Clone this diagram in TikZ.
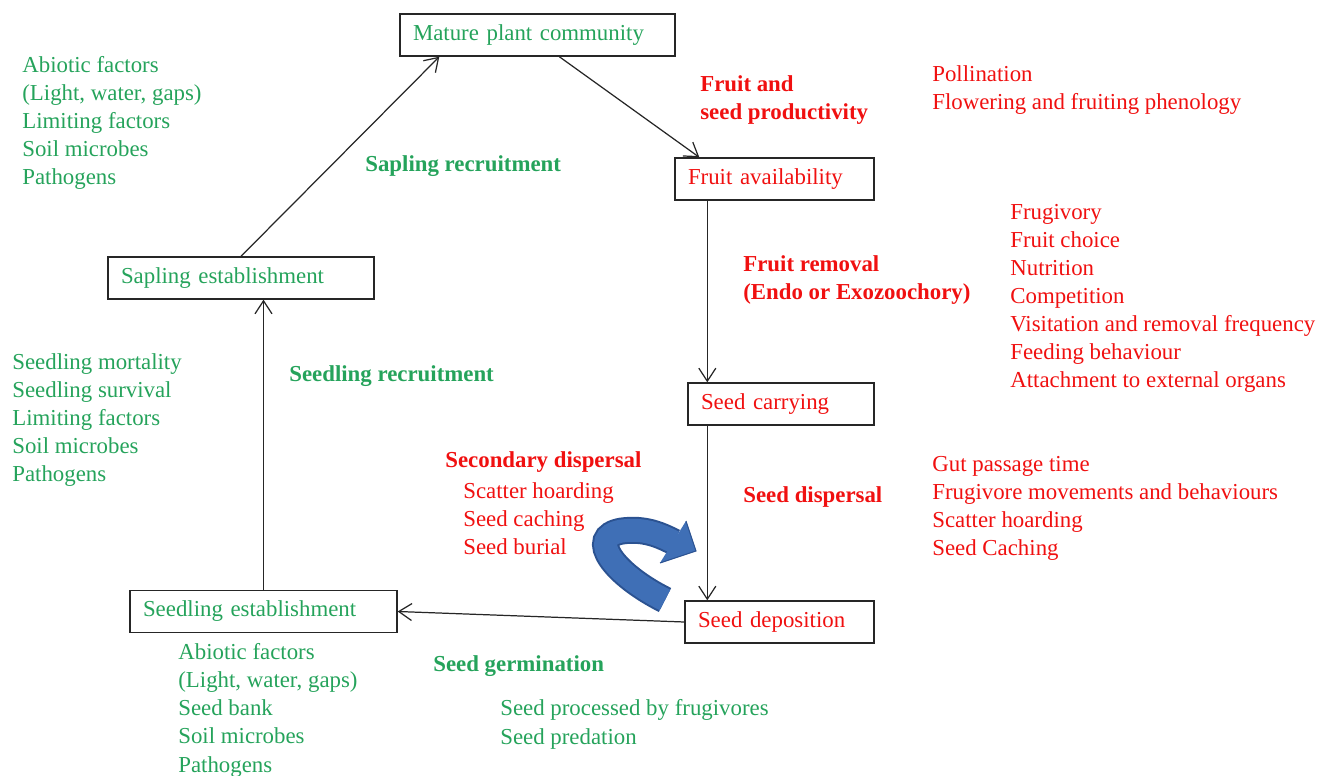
\documentclass[tikz,border=0pt]{standalone}
\usepackage{fontspec}
\setmainfont{Liberation Serif}
\usetikzlibrary{calc,arrows.meta}
\definecolor{leafgreen}{HTML}{25A35B}
\definecolor{fruitred}{HTML}{F01010}
\definecolor{arrowblue}{HTML}{3F6FB6}
\definecolor{arrowedge}{HTML}{2B5291}
\newcommand{\txt}{\fontsize{13}{16}\selectfont}

\begin{document}
\begin{tikzpicture}[x=.02cm,y=-.02cm,
  stage/.style={draw=black!85,line width=.8pt,minimum height=.84cm,inner xsep=.26cm,align=left,text width=#1,font=\txt},
  note/.style={anchor=base west,inner sep=0,align=left,font=\txt},
  lead/.style={anchor=base west,inner sep=0,align=left,font=\txt\bfseries},
  flow/.style={-{Straight Barb[length=2.6mm,width=3.4mm]},black!85,line width=.7pt}]
\useasboundingbox (0,0) rectangle (1332,776);
% life cycle stages
\node[stage=4.98cm,text=leafgreen] (mature) at (537.5,35) {Mature plant community};
\node[stage=3.46cm,text=fruitred] (fruitav) at (774.5,179) {Fruit availability};
\node[stage=3.20cm,text=fruitred] (carrying) at (781,404) {Seed carrying};
\node[stage=3.26cm,text=fruitred] (deposition) at (779.5,622) {Seed deposition};
\node[stage=4.82cm,text=leafgreen] (seedling) at (263.5,611.5) {Seedling establishment};
\node[stage=4.80cm,text=leafgreen] (sapling) at (241,278) {Sapling establishment};
% transitions
\draw[flow] (sapling.north) -- ([xshift=.8cm]mature.south west);
\draw[flow] ([xshift=3.2cm]mature.south west) -- ([xshift=.5cm]fruitav.north west);
\draw[flow] ([xshift=.66cm]fruitav.south west) -- ([xshift=.66cm]fruitav.south west |- carrying.north);
\draw[flow] ([xshift=.4cm]carrying.south west) -- ([xshift=.4cm]carrying.south west |- deposition.north);
\draw[flow] (deposition.west) -- (seedling.east);
\draw[flow] (seedling.north) -- (seedling.north |- sapling.south);
% curved blue arrow (secondary dispersal)
\draw[arrowedge,line width=.54cm] (665,600) .. controls (615,575) and (585,537) .. (622,531) .. controls (645,528) and (660,535) .. (674,542);
\draw[arrowblue,line width=.46cm] (665,600) .. controls (615,575) and (585,537) .. (622,531) .. controls (645,528) and (660,535) .. (674,542);
\fill[arrowblue] (686,521) -- (696,551) -- (660,563) -- cycle;
\draw[arrowedge,line width=.6pt] (686,521) -- (696,551) -- (660,563);
% processes (bold)
\node[lead,leafgreen] (sapRec) at (365,172) {Sapling recruitment};
\node[lead,leafgreen] (seedRec) at (289,382) {Seedling recruitment};
\node[lead,leafgreen] (germ) at (433,671) {Seed germination};
\node[lead,fruitred] (product) at (700,120) {Fruit and\\seed productivity};
\node[lead,fruitred] (removal) at (743,300) {Fruit removal\\(Endo or Exozoochory)};
\node[lead,fruitred] (dispersal) at (743,503) {Seed dispersal};
\node[lead,fruitred] (secondary) at (445,468) {Secondary dispersal};
% factors (placed at the baseline of the last line)
\node[note,leafgreen] (saplingF) at (22,185) {Abiotic factors\\(Light, water, gaps)\\Limiting factors\\Soil microbes\\Pathogens};
\node[note,leafgreen] (seedlingF) at (12,482) {Seedling mortality\\Seedling survival\\Limiting factors\\Soil microbes\\Pathogens};
\node[note,leafgreen] (estabF) at (178,772) {Abiotic factors\\(Light, water, gaps)\\Seed bank\\Soil microbes\\Pathogens};
\node[note,leafgreen] (germF) at (500,744) {Seed processed by frugivores\\Seed predation};
\node[note,fruitred] (productF) at (932,110) {Pollination\\Flowering and fruiting phenology};
\node[note,fruitred] (removalF) at (1010,388) {Frugivory\\Fruit choice\\Nutrition\\Competition\\Visitation and removal frequency\\Feeding behaviour\\Attachment to external organs};
\node[note,fruitred] (dispersalF) at (932,556) {Gut passage time\\Frugivore movements and behaviours\\Scatter hoarding\\Seed Caching};
\node[note,fruitred] (secondaryF) at (463,555) {Scatter hoarding\\Seed caching\\Seed burial};
\end{tikzpicture}
\end{document}
